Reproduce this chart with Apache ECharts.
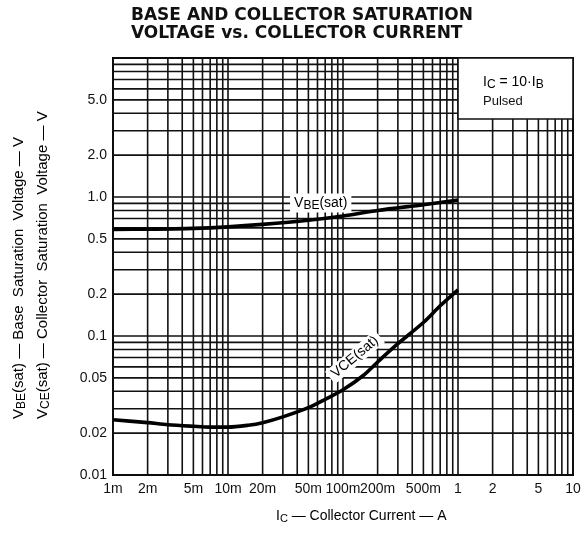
<!DOCTYPE html>
<html><head><meta charset="utf-8">
<script src="https://cdn.jsdelivr.net/npm/echarts@6/dist/echarts.min.js"></script>
<style>html,body{margin:0;padding:0;background:#fff}#c{width:587px;height:534px}</style>
</head><body><div id="c"></div>
<script>
// ---- data ----
const vbeCurrent = [0.001, 0.002, 0.005, 0.01, 0.02, 0.05, 0.1, 0.2, 0.5, 1];
const vbeSat     = [0.585, 0.587, 0.595, 0.61, 0.635, 0.68, 0.73, 0.80, 0.88, 0.95];
const vceCurrent = [0.001, 0.002, 0.003, 0.005, 0.007, 0.01, 0.015, 0.02, 0.03, 0.05, 0.07, 0.1, 0.15, 0.2, 0.3, 0.5, 0.7, 1];
const vceSat     = [0.025, 0.0238, 0.0230, 0.0224, 0.0221, 0.0221, 0.0228, 0.0238, 0.0262, 0.0305, 0.035, 0.041, 0.052, 0.065, 0.088, 0.125, 0.165, 0.215];
const xTickValues = [0.001, 0.002, 0.005, 0.01, 0.02, 0.05, 0.1, 0.2, 0.5, 1, 2, 5, 10];
const xTickLabels = ['1m', '2m', '5m', '10m', '20m', '50m', '100m', '200m', '500m', '1', '2', '5', '10'];
const yTickValues = [5, 2, 1, 0.5, 0.2, 0.1, 0.05, 0.02, 0.01];
const yTickLabels = ['5.0', '2.0', '1.0', '0.5', '0.2', '0.1', '0.05', '0.02', '0.01'];
const xDecades = [0.001, 0.01, 0.1, 1];
const yDecades = [0.01, 0.1, 1];
const gridMultipliers = [1, 2, 3, 4, 5, 6, 7, 8, 9];
const X_MIN = 0.001, X_MAX = 10, Y_MIN = 0.01, Y_MAX = 10;

// ---- derived ----
const vLines = [];
xDecades.forEach(d => gridMultipliers.forEach(m => vLines.push(+(d * m).toPrecision(6))));
vLines.push(X_MAX);
const hLines = [];
yDecades.forEach(d => gridMultipliers.forEach(m => hLines.push(+(d * m).toPrecision(6))));
hLines.push(Y_MAX);

const FONT = '"Liberation Sans", Arial, sans-serif';
const chart = echarts.init(document.getElementById('c'), null, { renderer: 'canvas' });

const option = {
  animation: false,
  backgroundColor: '#fff',
  title: {
    text: 'BASE AND COLLECTOR SATURATION\nVOLTAGE vs. COLLECTOR CURRENT',
    left: 126,
    top: 2,
    textStyle: { fontFamily: '"DejaVu Sans", sans-serif', fontSize: 17, fontWeight: 'bold', color: '#111', lineHeight: 18 }
  },
  grid: { left: 113, right: 14, top: 58, bottom: 59, show: true, borderColor: '#000', borderWidth: 2, backgroundColor: '#fff' },
  xAxis: { type: 'log', logBase: 10, min: X_MIN, max: X_MAX, axisLine: { show: false }, axisTick: { show: false }, axisLabel: { show: false }, splitLine: { show: false } },
  yAxis: { type: 'log', logBase: 10, min: Y_MIN, max: Y_MAX, axisLine: { show: false }, axisTick: { show: false }, axisLabel: { show: false }, splitLine: { show: false } },
  graphic: [
    {
      type: 'text', left: 276, top: 509, z: 10,
      style: {
        text: '{n|I}{s|C}{n| — Collector Current — A}',
        rich: { n: { fontSize: 14, fontFamily: FONT, color: '#111' }, s: { fontSize: 11, fontFamily: FONT, color: '#111', padding: [6, 0, 0, 0] } }
      }
    },
    {
      type: 'text', x: 19, y: 419, rotation: Math.PI / 2, z: 10,
      style: {
        text: '{n|V}{s|BE}{n|(sat) — Base  Saturation  Voltage — V}',
        textAlign: 'left', textVerticalAlign: 'middle',
        rich: { n: { fontSize: 15, fontFamily: FONT, color: '#111' }, s: { fontSize: 12, fontFamily: FONT, color: '#111', padding: [6, 0, 0, 0] } }
      }
    },
    {
      type: 'text', x: 43, y: 419, rotation: Math.PI / 2, z: 10,
      style: {
        text: '{n|V}{s|CE}{n|(sat) — Collector  Saturation  Voltage — V}',
        textAlign: 'left', textVerticalAlign: 'middle',
        rich: { n: { fontSize: 15, fontFamily: FONT, color: '#111' }, s: { fontSize: 12, fontFamily: FONT, color: '#111', padding: [6, 0, 0, 0] } }
      }
    }
  ],
  series: [
    {
      name: 'vgrid', type: 'custom', z: 1, silent: true, clip: false,
      data: vLines.map(v => [v, Y_MIN]),
      renderItem: (params, api) => {
        const x = api.value(0);
        const p1 = api.coord([x, Y_MIN]), p2 = api.coord([x, Y_MAX]);
        return { type: 'line', shape: { x1: p1[0], y1: p1[1], x2: p2[0], y2: p2[1] }, style: { stroke: '#111', lineWidth: 1.6 } };
      }
    },
    {
      name: 'hgrid', type: 'custom', z: 1, silent: true, clip: false,
      data: hLines.map(v => [X_MIN, v]),
      renderItem: (params, api) => {
        const y = api.value(1);
        const p1 = api.coord([X_MIN, y]), p2 = api.coord([X_MAX, y]);
        return { type: 'line', shape: { x1: p1[0], y1: p1[1], x2: p2[0], y2: p2[1] }, style: { stroke: '#111', lineWidth: 1.6 } };
      }
    },
    {
      name: 'curveLabels', type: 'custom', z: 2, silent: true, clip: false,
      data: [[0.064, 0.905], [0.127, 0.0705]],
      renderItem: (params, api) => {
        const p = api.coord([api.value(0), api.value(1)]);
        const isVbe = params.dataIndex === 0;
        return {
          type: 'text', x: p[0], y: p[1], rotation: isVbe ? 0 : 40 * Math.PI / 180,
          style: {
            text: isVbe ? '{n|V}{s|BE}{n|(sat)}' : '{n|VCE(sat)}',
            textAlign: 'center', textVerticalAlign: 'middle',
            backgroundColor: '#fff', padding: [1, 4, 1, 4],
            rich: { n: { fontSize: 14, fontFamily: FONT, color: '#111' }, s: { fontSize: 12, fontFamily: FONT, color: '#111', padding: [5, 0, 0, 0] } }
          }
        };
      }
    },
    {
      name: 'VBE(sat)', type: 'line', z: 3, smooth: 0.3, symbol: 'none',
      data: vbeCurrent.map((x, i) => [x, vbeSat[i]]),
      lineStyle: { color: '#000', width: 3.6 }
    },
    {
      name: 'VCE(sat)', type: 'line', z: 3, smooth: 0.3, symbol: 'none',
      data: vceCurrent.map((x, i) => [x, vceSat[i]]),
      lineStyle: { color: '#000', width: 3.6 }
    },
    {
      name: 'noteBox', type: 'custom', z: 4, silent: true, clip: false,
      data: [[1, 3.64]],
      renderItem: (params, api) => {
        const p1 = api.coord([api.value(0), Y_MAX]);
        const p2 = api.coord([X_MAX, api.value(1)]);
        return {
          type: 'group',
          children: [
            { type: 'rect', shape: { x: p1[0], y: p1[1], width: p2[0] - p1[0], height: p2[1] - p1[1] }, style: { fill: '#fff', stroke: '#111', lineWidth: 1.6 } },
            { type: 'text', x: p1[0] + 25, y: p1[1] + 24, style: { text: '{n|I}{s|C}{n| = 10·I}{s|B}', textVerticalAlign: 'middle', rich: { n: { fontSize: 14, fontFamily: FONT, color: '#111' }, s: { fontSize: 12, fontFamily: FONT, color: '#111', padding: [5, 0, 0, 0] } } } },
            { type: 'text', x: p1[0] + 25, y: p1[1] + 43, style: { text: 'Pulsed', fontSize: 13, fontFamily: FONT, fill: '#111', textVerticalAlign: 'middle' } }
          ]
        };
      }
    },
    {
      name: 'xTicks', type: 'custom', z: 5, silent: true, clip: false,
      data: xTickValues.map(v => [v, Y_MIN]),
      renderItem: (params, api) => {
        const p = api.coord([api.value(0), Y_MIN]);
        return { type: 'text', x: p[0], y: p[1] + 14, style: { text: xTickLabels[params.dataIndex], textAlign: 'center', textVerticalAlign: 'middle', fontSize: 14, fontFamily: FONT, fill: '#111' } };
      }
    },
    {
      name: 'yTicks', type: 'custom', z: 5, silent: true, clip: false,
      data: yTickValues.map(v => [X_MIN, v]),
      renderItem: (params, api) => {
        const p = api.coord([X_MIN, api.value(1)]);
        return { type: 'text', x: p[0] - 6, y: p[1], style: { text: yTickLabels[params.dataIndex], textAlign: 'right', textVerticalAlign: 'middle', fontSize: 14, fontFamily: FONT, fill: '#111' } };
      }
    }
  ]
};
chart.setOption(option);
</script>
</body></html>
